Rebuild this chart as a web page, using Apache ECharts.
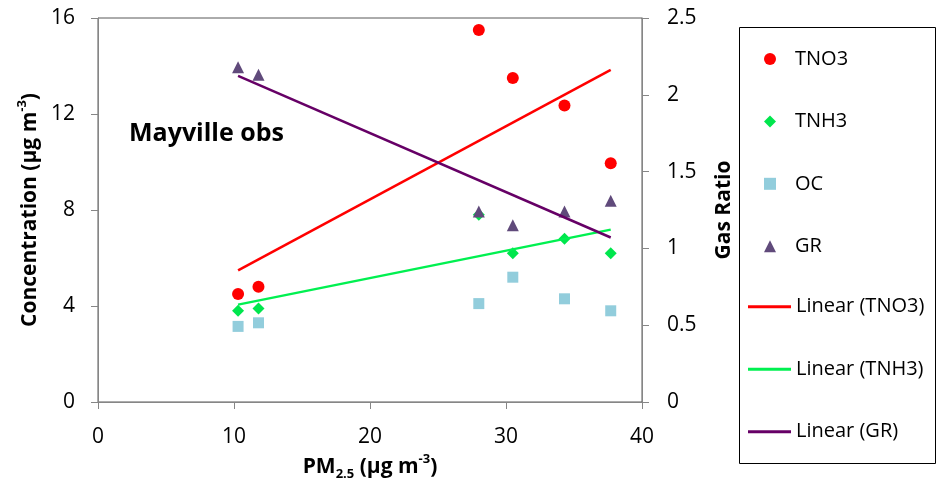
<!DOCTYPE html>
<html>
<head>
<meta charset="utf-8">
<script src="https://cdn.jsdelivr.net/npm/echarts@6/dist/echarts.min.js"></script>
<style>html,body{margin:0;padding:0;background:#fff}#c{width:941px;height:487px}</style>
</head>
<body>
<div id="c"></div>
<script>
const pm25 = [10.3, 11.8, 28.0, 30.5, 34.3, 37.7];
const tno3 = [4.5, 4.8, 15.5, 13.5, 12.35, 9.95];
const tnh3 = [3.8, 3.9, 7.8, 6.2, 6.8, 6.2];
const oc   = [3.15, 3.3, 4.1, 5.2, 4.3, 3.8];
const gr   = [2.18, 2.13, 1.24, 1.15, 1.24, 1.31];
const xTicks = [0, 10, 20, 30, 40];
const yTicks = [0, 4, 8, 12, 16];
const y2Ticks = [0, 0.5, 1, 1.5, 2, 2.5];

function pairs(ys) { return pm25.map((x, i) => [x, ys[i]]); }
function trend(ys) {
  const n = pm25.length;
  const mx = pm25.reduce((a, b) => a + b, 0) / n;
  const my = ys.reduce((a, b) => a + b, 0) / n;
  let sxy = 0, sxx = 0;
  for (let i = 0; i < n; i++) { sxy += (pm25[i] - mx) * (ys[i] - my); sxx += (pm25[i] - mx) ** 2; }
  const b = sxy / sxx, a = my - b * mx;
  const x0 = Math.min(...pm25), x1 = Math.max(...pm25);
  return [[x0, a + b * x0], [x1, a + b * x1]];
}

const FONT = 'Open Sans';
const axisGray = '#868686';
const chart = echarts.init(document.getElementById('c'));
const nameRich = {
  b: { fontSize: 21, fontWeight: 'bold', fontFamily: FONT, color: '#000', lineHeight: 28, verticalAlign: 'middle' },
  sup: { fontSize: 13, fontWeight: 'bold', fontFamily: FONT, color: '#000', lineHeight: 14, verticalAlign: 'top' },
  sub: { fontSize: 13, fontWeight: 'bold', fontFamily: FONT, color: '#000', lineHeight: 14, verticalAlign: 'bottom' }
};

chart.setOption({
  animation: false,
  backgroundColor: '#fff',
  textStyle: { fontFamily: FONT },
  title: {
    text: 'Mayville obs', left: 129, top: 121, padding: 0,
    textStyle: { fontFamily: FONT, fontSize: 25, fontWeight: 'bold', color: '#000' }
  },
  grid: { left: 98, right: 299, top: 18, bottom: 85, show: true, borderColor: '#595959', borderWidth: 1, backgroundColor: 'transparent' },
  graphic: [{ type: 'rect', shape: { x: 739.5, y: 27.5, width: 196, height: 436 }, style: { fill: 'none', stroke: '#000', lineWidth: 1 }, z: -1 }],
  legend: [
    {
      orient: 'vertical', left: 764, top: 47, padding: 0, itemGap: 38.4, itemWidth: 12, itemHeight: 12,
      data: ['TNO3', 'TNH3', 'OC', 'GR'],
      textStyle: { fontFamily: FONT, fontSize: 20, color: '#000', lineHeight: 24, padding: [0, 0, 0, 14] }
    },
    {
      orient: 'vertical', left: 748, top: 294.7, padding: 0, itemGap: 38.5, itemWidth: 43, itemHeight: 3, icon: 'rect',
      data: ['Linear (TNO3)', 'Linear (TNH3)', 'Linear (GR)'],
      textStyle: { fontFamily: FONT, fontSize: 20, color: '#000', lineHeight: 24 }
    }
  ],
  xAxis: {
    type: 'value', min: 0, max: 40, interval: 10,
    name: '{b|PM}{sub|2.5}{b| (μg m}{sup|-3}{b|)}', nameLocation: 'middle', nameGap: 49,
    nameTextStyle: { rich: nameRich },
    axisLine: { lineStyle: { color: axisGray, width: 1 } },
    axisTick: { show: true, inside: false, length: 7, lineStyle: { color: axisGray } },
    axisLabel: { fontSize: 21, color: '#000', fontFamily: FONT, margin: 25 },
    splitLine: { show: false }
  },
  yAxis: [
    {
      type: 'value', min: 0, max: 16, interval: 4, position: 'left',
      name: '{b|Concentration (μg m}{sup|-3}{b|)}', nameLocation: 'middle', nameGap: 54, nameRotate: 90,
      nameTextStyle: { rich: nameRich },
      axisLine: { show: true, lineStyle: { color: axisGray, width: 1 } },
      axisTick: { show: true, length: 7, lineStyle: { color: axisGray } },
      axisLabel: { fontSize: 21, color: '#000', fontFamily: FONT, margin: 23 },
      splitLine: { show: false }
    },
    {
      type: 'value', min: 0, max: 2.5, interval: 0.5, position: 'right',
      name: '{b|Gas Ratio}', nameLocation: 'middle', nameGap: 68, nameRotate: 90,
      nameTextStyle: { rich: nameRich },
      axisLine: { show: true, lineStyle: { color: axisGray, width: 1 } },
      axisTick: { show: true, length: 7, lineStyle: { color: axisGray } },
      axisLabel: { fontSize: 21, color: '#000', fontFamily: FONT, margin: 25 },
      splitLine: { show: false }
    }
  ],
  series: [
    { name: 'TNO3', type: 'scatter', symbol: 'circle', symbolSize: 12, itemStyle: { color: '#FF0000', opacity: 1 }, data: pairs(tno3) },
    { name: 'TNH3', type: 'scatter', symbol: 'diamond', symbolSize: 12, itemStyle: { color: '#00E64D', opacity: 1 }, data: pairs(tnh3) },
    { name: 'OC', type: 'scatter', symbol: 'rect', symbolSize: 11, itemStyle: { color: '#92CDDC', opacity: 1 }, data: pairs(oc) },
    { name: 'GR', type: 'scatter', symbol: 'triangle', symbolSize: 12, yAxisIndex: 1, itemStyle: { color: '#604A7B', opacity: 1 }, data: pairs(gr) },
    { name: 'Linear (TNO3)', type: 'line', symbol: 'none', lineStyle: { color: '#FF0000', width: 2.5 }, itemStyle: { color: '#FF0000' }, data: trend(tno3), z: 3 },
    { name: 'Linear (TNH3)', type: 'line', symbol: 'none', lineStyle: { color: '#00F050', width: 2.5 }, itemStyle: { color: '#00F050' }, data: trend(tnh3), z: 3 },
    { name: 'Linear (GR)', type: 'line', symbol: 'none', yAxisIndex: 1, lineStyle: { color: '#660066', width: 2.5 }, itemStyle: { color: '#660066' }, data: trend(gr), z: 3 }
  ]
});
</script>
</body>
</html>
